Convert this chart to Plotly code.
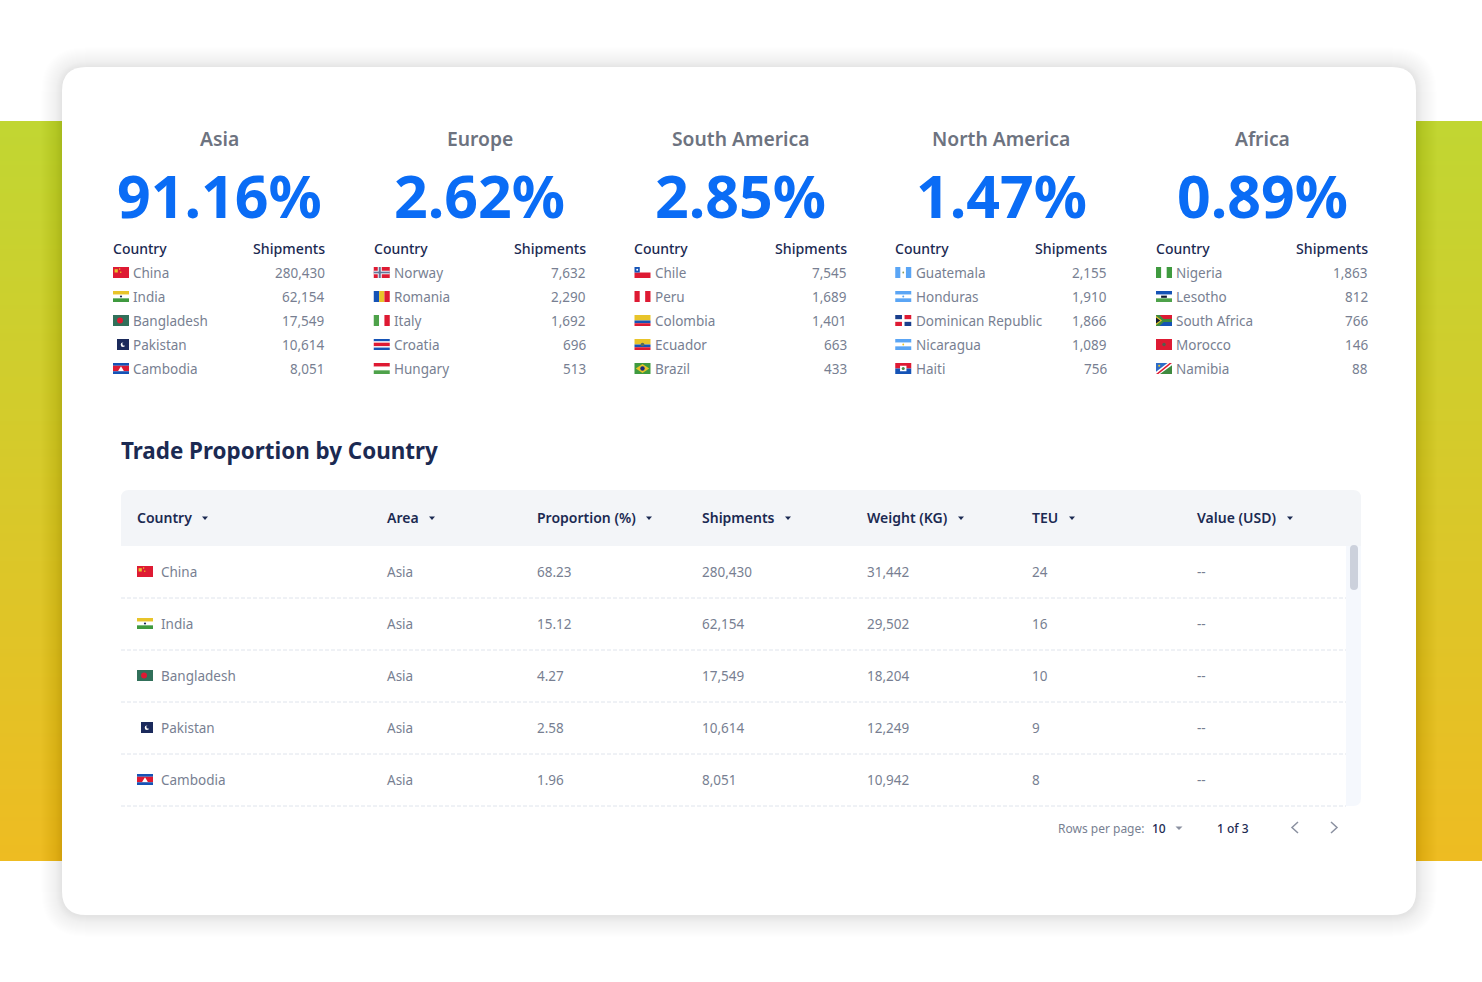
import plotly.graph_objects as go
import numpy as np

# ---------- data ----------
regions = ["Asia", "Europe", "South America", "North America", "Africa"]
region_share = ["91.16%", "2.62%", "2.85%", "1.47%", "0.89%"]
region_countries = [
    ["China", "India", "Bangladesh", "Pakistan", "Cambodia"],
    ["Norway", "Romania", "Italy", "Croatia", "Hungary"],
    ["Chile", "Peru", "Colombia", "Ecuador", "Brazil"],
    ["Guatemala", "Honduras", "Dominican Republic", "Nicaragua", "Haiti"],
    ["Nigeria", "Lesotho", "South Africa", "Morocco", "Namibia"],
]
region_shipments = [
    [280430, 62154, 17549, 10614, 8051],
    [7632, 2290, 1692, 696, 513],
    [7545, 1689, 1401, 663, 433],
    [2155, 1910, 1866, 1089, 756],
    [1863, 812, 766, 146, 88],
]
table_title = "Trade Proportion by Country"
table_headers = ["Country", "Area", "Proportion (%)", "Shipments", "Weight (KG)", "TEU", "Value (USD)"]
table_country = ["China", "India", "Bangladesh", "Pakistan", "Cambodia"]
table_area = ["Asia", "Asia", "Asia", "Asia", "Asia"]
table_proportion = ["68.23", "15.12", "4.27", "2.58", "1.96"]
table_shipments = [280430, 62154, 17549, 10614, 8051]
table_weight = [31442, 29502, 18204, 12249, 10942]
table_teu = [24, 16, 10, 9, 8]
table_value = ["--", "--", "--", "--", "--"]
pager_rows = "10"
pager_page = "1 of 3"

# ---------- palette ----------
FONT = "Noto Sans"
INK = "#1b2a52"
GREY = "#787f92"
TITLE_GREY = "#6d7380"
BLUE = "#0a6cf5"
RED, WHITE, GREEN, NAVY, YEL, SKY, BL = "#de1a33", "#ffffff", "#3f9a3f", "#1b2a5c", "#e8c42a", "#5aa5f5", "#1553b6"
LINE = "#dfe4ec"

shapes, annos = [], []


def T(x, y, text, size=13.5, color=GREY, anchor="left", weight=400):
    dx = -1.2 if anchor == "left" else (0 if anchor == "center" else 0.6)
    annos.append(dict(x=x + dx, y=y - 1, xref="x", yref="y", text=text, showarrow=False, xanchor=anchor, yanchor="middle",
                      borderpad=0, font=dict(family=FONT, size=size, color=color, weight=weight)))


def rrect(x0, y0, x1, y1, r):
    tl, tr, br, bl = r if isinstance(r, (tuple, list)) else (r, r, r, r)
    return (f"M{x0+tl},{y0} L{x1-tr},{y0} Q{x1},{y0} {x1},{y0+tr} L{x1},{y1-br} Q{x1},{y1} {x1-br},{y1} "
            f"L{x0+bl},{y1} Q{x0},{y1} {x0},{y1-bl} L{x0},{y0+tl} Q{x0},{y0} {x0+tl},{y0} Z")


def path(d, fill, layer="above", line=None):
    s = dict(type="path", path=d, fillcolor=fill, layer=layer, line=dict(width=0))
    if line:
        s["line"] = line
    shapes.append(s)


def rect(x0, y0, x1, y1, fill):
    shapes.append(dict(type="rect", x0=x0, y0=y0, x1=x1, y1=y1, fillcolor=fill, line=dict(width=0), layer="above"))


def H(cols):  # horizontal stripes
    n = sum(c[0] for c in cols)
    out, p = [], 0
    for w, c in cols:
        out.append(("r", 0, p / n, 1, (p + w) / n, c))
        p += w
    return out


def V(cols):
    n = sum(c[0] for c in cols)
    out, p = [], 0
    for w, c in cols:
        out.append(("r", p / n, 0, (p + w) / n, 1, c))
        p += w
    return out


FLAGS = {
    "China": [("r", 0, 0, 1, 1, RED), ("r", .1, .2, .3, .5, YEL), ("r", .38, .12, .45, .25, YEL), ("r", .45, .42, .52, .55, YEL)],
    "India": H([(1, YEL), (1, WHITE), (1, GREEN)]) + [("c", .5, .5, .1, NAVY)],
    "Bangladesh": [("r", 0, 0, 1, 1, "#31705a"), ("c", .44, .5, .27, RED)],
    "Pakistan": [("r", .25, 0, 1, 1, NAVY), ("c", .62, .52, .2, WHITE), ("c", .7, .44, .17, NAVY)],
    "Cambodia": H([(1, BL), (2, RED), (1, BL)]) + [("p", [(.32, .72), (.5, .3), (.68, .72)], WHITE)],
    "Norway": [("r", 0, 0, 1, 1, RED), ("r", .25, 0, .5, 1, WHITE), ("r", 0, .34, 1, .66, WHITE), ("r", .31, 0, .44, 1, "#62769a"), ("r", 0, .42, 1, .58, "#62769a")],
    "Romania": V([(1, BL), (1, YEL), (1, RED)]),
    "Italy": V([(1, "#4ea24a"), (1, WHITE), (1, RED)]),
    "Croatia": H([(2, BL), (1, WHITE), (3, RED), (1, WHITE), (2, BL)]),
    "Hungary": H([(1, RED), (1, WHITE), (1, "#4ea24a")]),
    "Chile": H([(1, WHITE), (1, RED)]) + [("r", 0, 0, .33, .5, BL), ("c", .17, .25, .09, WHITE)],
    "Peru": V([(1, RED), (1, WHITE), (1, RED)]),
    "Colombia": H([(2, YEL), (1, BL), (1, RED)]),
    "Ecuador": H([(2, YEL), (1, BL), (1, RED)]) + [("c", .5, .5, .17, "#5a6c5a")],
    "Brazil": [("r", 0, 0, 1, 1, "#3f9a3f"), ("p", [(.08, .5), (.5, .08), (.92, .5), (.5, .92)], YEL), ("c", .5, .5, .2, "#1b2a7c")],
    "Guatemala": V([(1, SKY), (1, WHITE), (1, SKY)]) + [("c", .5, .5, .08, "#8a9a5a")],
    "Honduras": H([(1, SKY), (1, WHITE), (1, SKY)]) + [("c", .5, .5, .09, SKY)],
    "Dominican Republic": [("r", 0, 0, 1, 1, WHITE), ("r", 0, 0, .42, .38, "#1a3f8c"), ("r", .58, .62, 1, 1, "#1a3f8c"), ("r", .58, 0, 1, .38, RED), ("r", 0, .62, .42, 1, RED)],
    "Nicaragua": H([(1, SKY), (1, WHITE), (1, SKY)]) + [("c", .5, .5, .08, YEL)],
    "Haiti": H([(1, RED), (1, BL)]) + [("r", .3, .25, .7, .75, WHITE), ("c", .5, .5, .14, "#4a8a4a")],
    "Nigeria": V([(1, GREEN), (1, WHITE), (1, GREEN)]),
    "Lesotho": H([(1, BL), (1, WHITE), (1, "#4ea24a")]) + [("r", .32, .42, .68, .62, "#111c33")],
    "South Africa": [("r", 0, 0, 1, .5, RED), ("r", 0, .5, 1, 1, BL), ("r", 0, .36, 1, .64, "#3f8a3f"),
                     ("p", [(0, 0), (.22, 0), (.58, .5), (.22, 1), (0, 1)], "#3f8a3f"), ("p", [(0, .1), (.38, .5), (0, .9)], YEL), ("p", [(0, .22), (.27, .5), (0, .78)], "#111c33")],
    "Morocco": [("r", 0, 0, 1, 1, RED), ("c", .5, .5, .16, "#50604f")],
    "Namibia": [("r", 0, 0, 1, 1, "#3f8a3f"), ("p", [(0, 0), (.8, 0), (0, 1)], "#2f6cc8"), ("p", [(.72, 0), (1, 0), (1, .2), (.25, 1), (0, 1), (0, .8)], WHITE),
                ("p", [(.85, 0), (1, 0), (.15, 1), (0, 1)], RED), ("c", .2, .25, .1, YEL)],
}


def flag(name, x, y, w=16, h=11):
    for it in FLAGS[name]:
        if it[0] == "r":
            rect(x + it[1] * w, y + it[2] * h, x + it[3] * w, y + it[4] * h, it[5])
        elif it[0] == "c":
            shapes.append(dict(type="circle", x0=x + (it[1]) * w - it[3] * h, x1=x + it[1] * w + it[3] * h,
                               y0=y + it[2] * h - it[3] * h, y1=y + it[2] * h + it[3] * h,
                               fillcolor=it[4], line=dict(width=0), layer="above"))
        else:
            d = "M" + " L".join(f"{x + a * w},{y + b * h}" for a, b in it[1]) + " Z"
            path(d, it[2])


# ---------- page furniture ----------
CARD = (62, 67, 1416, 915)
for i in range(21, 0, -1):
    a = 0.002 + 0.0085 * (1 - i / 21) ** 2
    path(rrect(CARD[0] - i, CARD[1] - i + 1, CARD[2] + i, CARD[3] + i + 1, 24 + i), f"rgba(0,0,0,{a:.4f})")
# card itself
path(rrect(*CARD, 24), "#ffffff")

# ---------- KPI panels ----------
step = 260.75
for k, reg in enumerate(regions):
    left = 113 + k * step
    right = 325.5 + k * step
    mid = 219 + k * step
    T(mid, 139, reg, 19.3, TITLE_GREY, "center", 600)
    T(mid, 195.5, region_share[k], 59, BLUE, "center", 700)
    T(left, 249, "Country", 14, INK, "left", 500)
    T(right, 249, "Shipments", 14.2, INK, "right", 500)
    for j, (c, s) in enumerate(zip(region_countries[k], region_shipments[k])):
        y = 273 + j * 24
        flag(c, left, y - 6)
        T(left + 20.5, y + 0.5, c)
        T(right, y + 0.5, f"{s:,}", anchor="right")

# ---------- table ----------
T(121, 451.5, table_title, 22.4, INK, "left", 700)
path(rrect(121, 490, 1361, 546, (8, 8, 0, 0)), "#f3f5f8")
path(rrect(1346, 546, 1361, 806, (0, 0, 8, 0)), "#f5f8fd")
path(rrect(1350, 545, 1358, 590, 4), "#ccd1dc")
col_x = [137, 387, 537, 702, 867, 1032, 1197]
arrow_x = [205, 432, 649, 788, 961, 1072, 1290]
for h, x, ax in zip(table_headers, col_x, arrow_x):
    T(x, 518, h, 14, INK, "left", 600)
    path(f"M{ax-3},516.5 L{ax+3},516.5 L{ax},520 Z", INK)
for j, c in enumerate(table_country):
    y = 572 + j * 52
    flag(c, 137, y - 6)
    ty = y + 1
    T(161, ty, c)
    T(col_x[1], ty, table_area[j])
    T(col_x[2], ty, table_proportion[j])
    T(col_x[3], ty, f"{table_shipments[j]:,}")
    T(col_x[4], ty, f"{table_weight[j]:,}")
    T(col_x[5], ty, str(table_teu[j]))
    T(col_x[6], ty, table_value[j])
    shapes.append(dict(type="line", x0=121, x1=1346, y0=y + 26, y1=y + 26, layer="above",
                       line=dict(color=LINE, width=1, dash="4px,2px")))

# ---------- pager ----------
T(1058, 829, "Rows per page:", 12, GREY)
T(1152, 829, pager_rows, 12, INK, "left", 500)
path("M1175.5,826.5 L1182.5,826.5 L1179,830 Z", "#8a90a0")
T(1217, 829, pager_page, 12, INK, "left", 500)
path("M1298,822 L1292,827.5 L1298,833", "rgba(0,0,0,0)", line=dict(color="#8a90a0", width=1.5))
path("M1331,822 L1337,827.5 L1331,833", "rgba(0,0,0,0)", line=dict(color="#8a90a0", width=1.5))

# ---------- gradient band ----------
band_y = np.arange(123, 860, 4)
band = go.Heatmap(x=[0, 1482], y=band_y, z=np.column_stack([band_y, band_y]), showscale=False, hoverinfo="skip",
                  zmin=121, zmax=861, colorscale=[[0, "#c1d632"], [1, "#eebc22"]], xgap=0, ygap=0)

fig = go.Figure(band)
fig.update_layout(width=1482, height=982, autosize=False, margin=dict(l=0, r=0, t=0, b=0), paper_bgcolor="#ffffff",
                  plot_bgcolor="rgba(0,0,0,0)", showlegend=False, shapes=shapes, annotations=annos,
                  xaxis=dict(range=[0, 1482], visible=False, fixedrange=True),
                  yaxis=dict(range=[982, 0], visible=False, fixedrange=True))
fig.write_html("out.html", config={"displayModeBar": False},
               post_script="document.body.style.margin='0';document.documentElement.style.overflow='hidden';")
